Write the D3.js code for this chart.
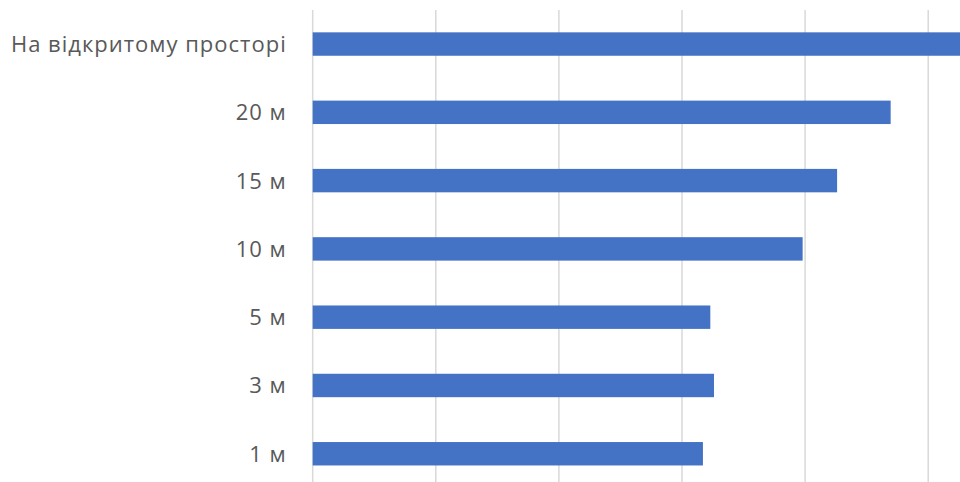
<!DOCTYPE html>
<html>
<head>
<meta charset="utf-8">
<script src="https://cdn.jsdelivr.net/npm/d3@7"></script>
<style>
  html, body { margin: 0; padding: 0; background: #fff; }
  svg { display: block; overflow: hidden; }
</style>
</head>
<body>
<svg id="chart" width="960" height="482"></svg>
<script>
// Categories from top to bottom, and their values
const categories = ["На відкритому просторі", "20 м", "15 м", "10 м", "5 м", "3 м", "1 м"];
const values = [54.5, 46.95, 42.6, 39.8, 32.3, 32.6, 31.7];
const gridTicks = [0, 10, 20, 30, 40, 50, 60];

const svg = d3.select("#chart");
const W = 960, H = 482;

// Plot area extends a little past the visible frame on the right and bottom
const x = d3.scaleLinear().domain([0, 60]).range([312.7, 312.7 + 6 * 123.1]);
const y = d3.scaleBand().domain(categories).range([9.8, 488]).paddingInner(0.657).paddingOuter(0.33);

// Vertical gridlines
svg.append("g")
  .selectAll("line")
  .data(gridTicks)
  .join("line")
  .attr("x1", d => x(d)).attr("x2", d => x(d))
  .attr("y1", 10).attr("y2", H)
  .attr("stroke", "#d9d9d9")
  .attr("stroke-width", 1.5);

// Bars
svg.append("g")
  .selectAll("rect")
  .data(categories)
  .join("rect")
  .attr("x", x(0))
  .attr("y", d => y(d))
  .attr("width", (d, i) => x(values[i]) - x(0))
  .attr("height", y.bandwidth())
  .attr("fill", "#4472c4");

// Category axis labels
const yAxis = d3.axisLeft(y).tickSize(0).tickPadding(26);
const ga = svg.append("g")
  .attr("transform", `translate(${x(0)},0)`)
  .call(yAxis);
ga.select(".domain").remove();
ga.selectAll("text")
  .attr("fill", "#595959")
  .attr("dy", "0.36em")
  .style("font-family", "'Open Sans', sans-serif")
  .style("font-size", "22px")
  .style("letter-spacing", "1px");
</script>
</body>
</html>
